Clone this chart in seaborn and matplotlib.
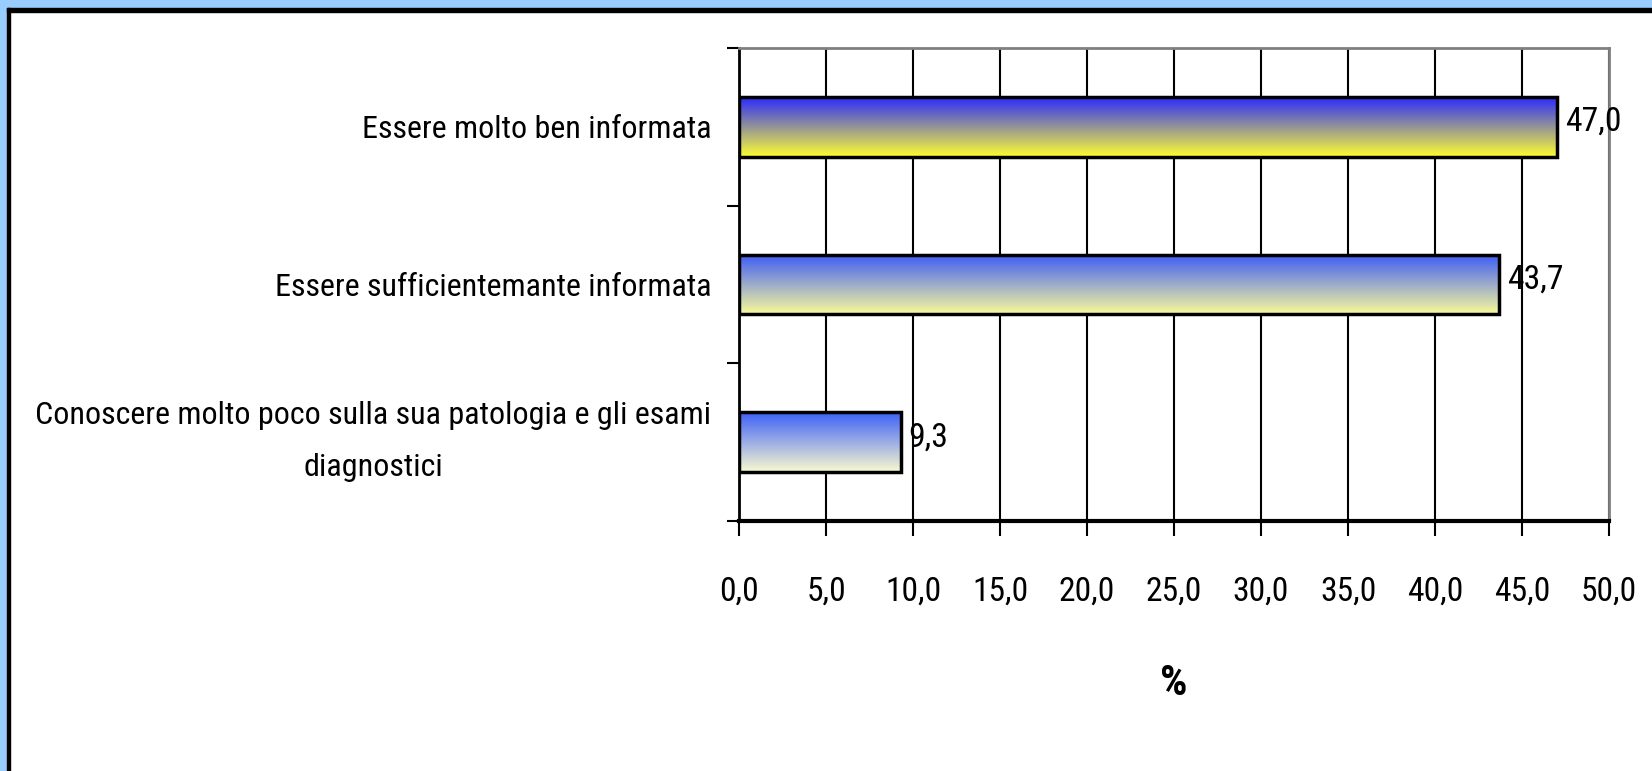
import numpy as np
import pandas as pd
import matplotlib
matplotlib.use("Agg")
import matplotlib.pyplot as plt
import seaborn as sns
from matplotlib.colors import to_rgb
from matplotlib.patches import Rectangle
from matplotlib.transforms import ScaledTranslation
from matplotlib import font_manager as fm
from matplotlib.textpath import TextPath

# ---- data ----
categories = [
    "Essere molto ben informata",
    "Essere sufficientemante informata",
    "Conoscere molto poco sulla sua patologia e gli esami\ndiagnostici",
]
values = [47.0, 43.7, 9.3]
value_labels = ["47,0", "43,7", "9,3"]
x_ticks = [0, 5, 10, 15, 20, 25, 30, 35, 40, 45, 50]
x_tick_labels = ["0,0", "5,0", "10,0", "15,0", "20,0", "25,0", "30,0", "35,0", "40,0", "45,0", "50,0"]
x_label = "%"

# ---- style ----
grad_top = ["#2A2AFF", "#3C5CF8", "#3C60F8"]
grad_bottom = ["#FFFF30", "#FAFA9A", "#FAFAD0"]

sns.set_theme(style="white")


# choose a narrow sans font if one is installed
def pick_font(bold=False):
    prefs = ["liberation sans narrow", "arial narrow", "roboto condensed",
             "open sans condensed", "noto sans", "dejavu sans", "liberation sans"]
    for pref in prefs:
        for f in fm.fontManager.ttflist:
            label = (f.name + " " + f.fname).lower()
            narrow = ("narrow" in label) or ("condensed" in label) or (f.stretch in ("condensed", "semi-condensed", "extra-condensed"))
            if pref in label and narrow and (("bold" in f.fname.lower() or f.weight in (700, "bold")) == bold):
                if "italic" in f.fname.lower() or f.style != "normal":
                    continue
                return f.fname
    return None


fname_reg = pick_font(False)
fname_bold = pick_font(True)
fp_reg = fm.FontProperties(fname=fname_reg) if fname_reg else fm.FontProperties(family="Liberation Sans")
fp_bold = fm.FontProperties(fname=fname_bold) if fname_bold else fm.FontProperties(family="Liberation Sans", weight="bold")

# size so that the longest label line fits the reference width (~672 px)
long_line = categories[2].split("\n")[0]
w10 = TextPath((0, 0), long_line, size=10, prop=fp_reg).get_extents().width
FS = min(30.0, 10 * (672 * 0.72) / w10)

W, H = 1652, 771
fig = plt.figure(figsize=(W / 100, H / 100), dpi=100)
fig.patch.set_facecolor("white")

# outer frame (blue band + black line on top and left)
blue = "#99CCFF"
fig.patches.append(Rectangle((0, 1 - 8 / H), 1, 8 / H, transform=fig.transFigure, color=blue, zorder=0))
fig.patches.append(Rectangle((0, 0), 7 / W, 1, transform=fig.transFigure, color=blue, zorder=0))
fig.patches.append(Rectangle((7 / W, 1 - 12 / H), 1 - 7 / W, 4 / H, transform=fig.transFigure, color="black", zorder=1))
fig.patches.append(Rectangle((7 / W, 0), 3 / W, 1 - 8 / H, transform=fig.transFigure, color="black", zorder=1))

ax = fig.add_axes([739 / W, 1 - 521 / H, 870 / W, 473 / H])
df = pd.DataFrame({"cat": categories, "val": values})
sns.barplot(data=df, y="cat", x="val", orient="h", width=0.38, color="white",
            edgecolor="black", linewidth=2.5, ax=ax, zorder=3)

ax.set_xlim(0, 50)
ax.set_ylim(2.5, -0.5)
xlim, ylim = ax.get_xlim(), ax.get_ylim()

# gradient fill for each bar
for i, patch in enumerate(ax.patches):
    x0, y0 = patch.get_x(), patch.get_y()
    w, h = patch.get_width(), patch.get_height()
    c1 = np.array(to_rgb(grad_top[i]))
    c2 = np.array(to_rgb(grad_bottom[i]))
    t = np.linspace(0, 1, 256)[:, None, None]
    img = c1[None, None, :] * (1 - t) + c2[None, None, :] * t
    im = ax.imshow(img, extent=(x0, x0 + w, y0 + h, y0), origin="upper",
                   aspect="auto", zorder=2.5, interpolation="bilinear")
    im.set_clip_path(patch)
    patch.set_facecolor("none")

ax.set_xlim(*xlim)
ax.set_ylim(*ylim)

# value labels
for i, (v, lab) in enumerate(zip(values, value_labels)):
    ax.text(v + 0.45, i - 0.03, lab, va="center", ha="left", fontproperties=fp_reg,
            fontsize=FS * 1.05, color="black", zorder=5)

# x axis
ax.set_xticks(x_ticks)
ax.set_xticklabels(x_tick_labels)
ax.tick_params(axis="x", which="major", bottom=True, direction="out", length=11,
               width=1.5, color="black", pad=28, labelcolor="black")
for lab in ax.get_xticklabels():
    lab.set_fontproperties(fp_reg)
    lab.set_fontsize(FS * 1.05)
ax.set_xlabel(x_label, fontproperties=fp_bold, fontsize=FS * 1.35, labelpad=40, color="black")

# y axis
ax.set_ylabel("")
ax.tick_params(axis="y", which="major", left=False, length=0, pad=20, labelcolor="black")
ax.set_yticks([-0.5, 0.5, 1.5, 2.5], minor=True)
ax.tick_params(axis="y", which="minor", left=True, direction="out", length=9, width=1.5, color="black")
for lab in ax.get_yticklabels():
    lab.set_fontproperties(fp_reg)
    lab.set_fontsize(FS)
    lab.set_multialignment("center")
    if "\n" in lab.get_text():
        lab.set_linespacing(2.0)
        lab.set_transform(lab.get_transform() + ScaledTranslation(0, 11 / 72, fig.dpi_scale_trans))

# grid and spines
ax.set_axisbelow(True)
ax.xaxis.grid(True, color="black", linewidth=1.5)
ax.yaxis.grid(False)
for side in ["top", "right"]:
    ax.spines[side].set_color("#808080")
    ax.spines[side].set_linewidth(2)
ax.spines["left"].set_color("black")
ax.spines["left"].set_linewidth(2)
ax.spines["bottom"].set_color("black")
ax.spines["bottom"].set_linewidth(3)
ax.set_facecolor("white")

fig.savefig("out.png", dpi=100)
